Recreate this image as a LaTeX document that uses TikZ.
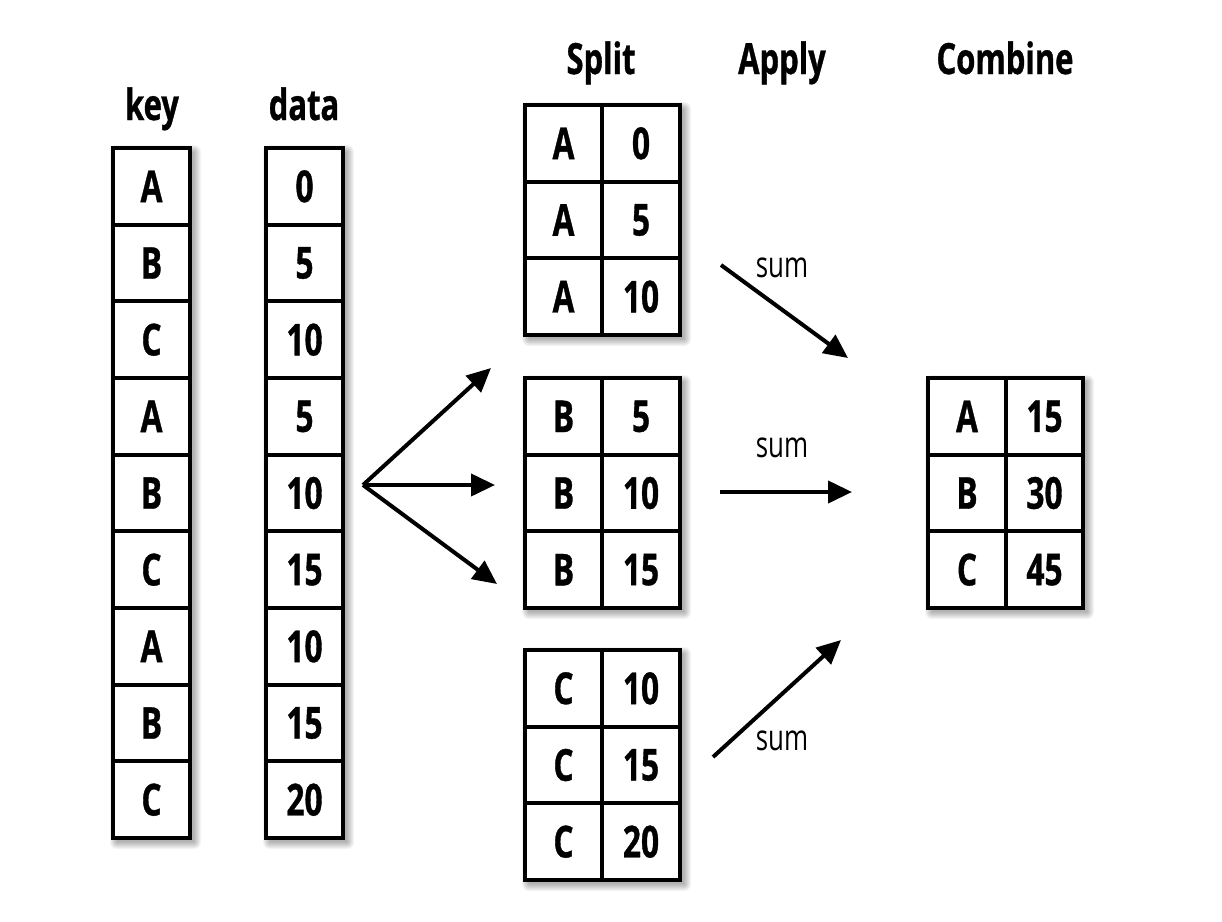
\documentclass[tikz,border=0pt]{standalone}
\usepackage{fontspec}
\setmainfont[FakeStretch=0.72, BoldFeatures={FakeBold=0.8}]{Open Sans}
\usetikzlibrary{arrows.meta}
\newcommand\softshadow[4]{%
  \foreach \k in {0,...,7}{%
    \fill[black,opacity=0.045,rounded corners=\k pt] (#1+4-\k,#2+4-\k) rectangle (#3+4+\k,#4+4+\k);}}
\begin{document}
\begin{tikzpicture}[x=1pt,y=-1pt,
  cell/.style={draw, line width=4pt, fill=white, minimum width=77pt, minimum height=76.67pt, inner sep=0pt,
    font=\fontsize{44}{48}\selectfont\bfseries},
  hdr/.style={font=\fontsize{43}{48}\selectfont\bfseries, anchor=base},
  lbl/.style={font=\fontsize{36}{40}\selectfont, anchor=base},
  arr/.style={line width=4pt, -{Triangle[length=24pt,width=22pt]}}]
\useasboundingbox (0,0) rectangle (1222,921);
% shadows
\softshadow{113}{148}{190}{838}
\softshadow{266}{148}{343}{838}
\softshadow{525}{105}{680}{335}
\softshadow{525}{378}{680}{608}
\softshadow{525}{650}{680}{880}
\softshadow{928}{378}{1083}{608}
% headers
\node[hdr] (hkey) at (152,120) {key};
\node[hdr] (hdata) at (304,120) {data};
\node[hdr] (hsplit) at (601,74) {Split};
\node[hdr] (happly) at (782,74) {Apply};
\node[hdr] (hcomb) at (1005,74) {Combine};
% key / data columns
\foreach \t [count=\i] in {A,B,C,A,B,C,A,B,C}
  \node[cell] (k\i) at (151.5,{148+76.67*\i-38.33}) {\t};
\foreach \t [count=\i] in {0,5,10,5,10,15,10,15,20}
  \node[cell] (d\i) at (304.5,{148+76.67*\i-38.33}) {\t};
% split tables
\foreach \t/\v [count=\i] in {A/0,A/5,A/10}{
  \node[cell, minimum width=77.5pt] (sak\i) at (563.5,{105+76.67*\i-38.33}) {\t};
  \node[cell, minimum width=77.5pt] (sav\i) at (641,{105+76.67*\i-38.33}) {\v};}
\foreach \t/\v [count=\i] in {B/5,B/10,B/15}{
  \node[cell, minimum width=77.5pt] (sbk\i) at (563.5,{378+76.67*\i-38.33}) {\t};
  \node[cell, minimum width=77.5pt] (sbv\i) at (641,{378+76.67*\i-38.33}) {\v};}
\foreach \t/\v [count=\i] in {C/10,C/15,C/20}{
  \node[cell, minimum width=77.5pt] (sck\i) at (563.5,{650+76.67*\i-38.33}) {\t};
  \node[cell, minimum width=77.5pt] (scv\i) at (641,{650+76.67*\i-38.33}) {\v};}
% combine
\foreach \t/\v [count=\i] in {A/15,B/30,C/45}{
  \node[cell, minimum width=77.5pt] (ck\i) at (967,{378+76.67*\i-38.33}) {\t};
  \node[cell, minimum width=77.5pt] (cv\i) at (1044.5,{378+76.67*\i-38.33}) {\v};}
% fan arrows
\coordinate (fan) at (363,485);
\coordinate (f1) at (491,368);
\coordinate (f2) at (495,485);
\coordinate (f3) at (497,584);
\draw[arr] (fan) -- (f1);
\draw[arr] (fan) -- (f2);
\draw[arr] (fan) -- (f3);
% apply arrows
\coordinate (a1s) at (721,265);
\coordinate (a1e) at (848,358);
\coordinate (a2s) at (720,492);
\coordinate (a2e) at (852,492);
\coordinate (a3s) at (713,757);
\coordinate (a3e) at (841,640);
\draw[arr] (a1s) -- (a1e);
\draw[arr] (a2s) -- (a2e);
\draw[arr] (a3s) -- (a3e);
\node[lbl] (sum1) at (782,277) {sum};
\node[lbl] (sum2) at (782,457) {sum};
\node[lbl] (sum3) at (782,750) {sum};
\end{tikzpicture}
\end{document}
